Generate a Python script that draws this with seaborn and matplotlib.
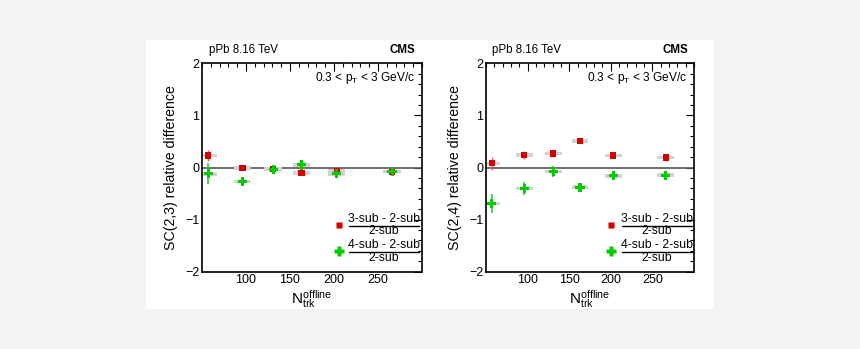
import numpy as np
import pandas as pd
import matplotlib
matplotlib.use("Agg")
import matplotlib.pyplot as plt
from matplotlib.patches import Rectangle
from matplotlib.ticker import MultipleLocator
import seaborn as sns

# ---- data ----
ntrk = [57, 96, 131, 163, 203, 266]
sc23_3sub = [0.23, -0.01, -0.03, -0.10, -0.06, -0.08]
sc23_3sub_err = [0.11, 0.04, 0.04, 0.03, 0.04, 0.03]
sc23_4sub = [-0.12, -0.27, -0.04, 0.05, -0.12, -0.08]
sc23_4sub_err = [0.20, 0.08, 0.07, 0.06, 0.06, 0.05]
sc24_3sub = [0.08, 0.24, 0.27, 0.51, 0.23, 0.19]
sc24_3sub_err = [0.12, 0.08, 0.07, 0.04, 0.03, 0.03]
sc24_4sub = [-0.69, -0.40, -0.08, -0.38, -0.16, -0.15]
sc24_4sub_err = [0.19, 0.12, 0.11, 0.07, 0.05, 0.05]
sys_halfwidth = 10
sys_halfheight = 0.035
ylabels = ["SC(2,3) relative difference", "SC(2,4) relative difference"]
xticks = [100, 150, 200, 250]

sns.set_style("white")
plt.rcParams['font.family'] = ['Liberation Sans', 'DejaVu Sans']
plt.rcParams['mathtext.fontset'] = 'custom'
plt.rcParams['mathtext.rm'] = 'Liberation Sans'
plt.rcParams['mathtext.it'] = 'Liberation Sans'

W, H = 860, 349
fig = plt.figure(figsize=(W / 100, H / 100), dpi=100, facecolor='#f3f3f3')
bg = Rectangle((146 / W, 1 - 309 / H), (714 - 146) / W, (309 - 40) / H,
               transform=fig.transFigure, facecolor='white',
               edgecolor='none', zorder=-10)
fig.add_artist(bg)

RED = '#d40000'
GREEN = '#00cc00'

panels = [
    (202, 422, sc23_3sub, sc23_3sub_err, sc23_4sub, sc23_4sub_err, ylabels[0], 339, 349, 419),
    (486, 694, sc24_3sub, sc24_3sub_err, sc24_4sub, sc24_4sub_err, ylabels[1], 611, 622, 692),
]
top, bot = 63.3, 271.7
for (x0, x1, r, re, g, ge, ylab, mxp, l0, l1) in panels:
    ax = fig.add_axes([x0 / W, 1 - bot / H, (x1 - x0) / W, (bot - top) / H])
    ax.set_zorder(1)
    ax.set_facecolor('white')
    ax.set_xlim(50, 300)
    ax.set_ylim(-2, 2)
    ax.axhline(0, color='#555555', lw=1.2, zorder=1)

    df = pd.DataFrame({'n': ntrk, 'r': r, 're': re, 'g': g, 'ge': ge})
    # systematic boxes
    for yy in (r, g):
        for xi, yi in zip(ntrk, yy):
            ax.add_patch(Rectangle((xi - sys_halfwidth, yi - sys_halfheight),
                                   2 * sys_halfwidth, 2 * sys_halfheight,
                                   facecolor='#d2d2d2', edgecolor='none', zorder=2))
    ax.errorbar(df['n'], df['r'], yerr=df['re'], fmt='none', ecolor='#e06060',
                elinewidth=1.0, zorder=3)
    ax.errorbar(df['n'], df['g'], yerr=df['ge'], fmt='none', ecolor='#33cc33',
                elinewidth=1.2, zorder=3)
    sns.scatterplot(data=df, x='n', y='r', marker='s', s=20, color=RED,
                    edgecolor='none', ax=ax, zorder=4)
    sns.scatterplot(data=df, x='n', y='g', marker='P', s=45, color=GREEN,
                    edgecolor='none', ax=ax, zorder=5)
    ax.set_xlabel('')
    ax.set_ylabel('')

    ax.set_xticks(xticks)
    ax.set_yticks([-2, -1, 0, 1, 2])
    ax.set_yticklabels(['\u22122', '\u22121', '0', '1', '2'])
    ax.xaxis.set_minor_locator(MultipleLocator(10))
    ax.yaxis.set_minor_locator(MultipleLocator(0.2))
    ax.tick_params(which='both', direction='in', top=True, right=True,
                   labelsize=9, color='black', labelcolor='black', pad=2)
    ax.tick_params(which='major', length=6, width=0.8)
    ax.tick_params(which='minor', length=3, width=0.8)
    for s in ax.spines.values():
        s.set_color('black')
        s.set_linewidth(1.2)
    ax.set_xlabel(r'$\mathrm{N}_{\mathrm{trk}}^{\mathrm{offline}}$', fontsize=11,
                  labelpad=1, color='black')
    ax.set_ylabel(ylab, fontsize=10.2, labelpad=5, color='black')

    ax.text(0.03, 1.035, 'pPb 8.16 TeV', transform=ax.transAxes, fontsize=8.3,
            ha='left', va='bottom', color='black')
    ax.text(0.97, 1.035, 'CMS', transform=ax.transAxes, fontsize=8.3,
            fontweight='bold', ha='right', va='bottom', color='black')
    ax.text(0.97, 0.93, r'0.3 < p$_{\mathrm{T}}$ < 3 GeV/c', transform=ax.transAxes,
            fontsize=8.6, ha='right', va='center', color='black')

    # legend (fraction style)
    fw = (x1 - x0)
    fh = (bot - top)
    for (ym, c, mk, ms, num) in [(224.5, RED, 's', 4.5, '3-sub - 2-sub'),
                                 (251.0, GREEN, 'P', 7.5, '4-sub - 2-sub')]:
        mx = (mxp - x0) / fw
        ax.plot([mx], [(bot - ym) / fh], marker=mk, ms=ms, color=c, mec='none',
                transform=ax.transAxes, clip_on=False, zorder=6)
        yl = (bot - (ym + 1.0)) / fh
        ax.plot([(l0 - x0) / fw, (l1 - x0) / fw], [yl, yl],
                color='black', lw=1.0, transform=ax.transAxes, zorder=6)
        cx = ((l0 + l1) / 2 - x0) / fw
        ax.text(cx, (bot - (ym - 5.5)) / fh, num, transform=ax.transAxes, fontsize=8.8,
                ha='center', va='center', color='black')
        ax.text(cx, (bot - (ym + 7.0)) / fh, '2-sub', transform=ax.transAxes, fontsize=8.8,
                ha='center', va='center', color='black')

fig.savefig('out.png', dpi=100, facecolor=fig.get_facecolor())
